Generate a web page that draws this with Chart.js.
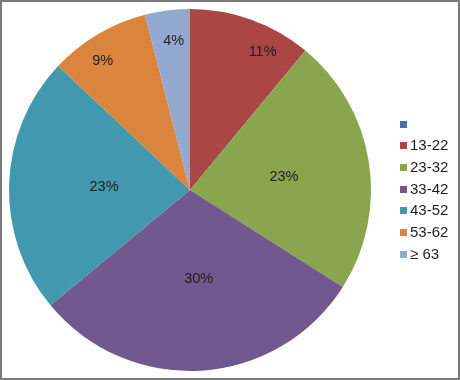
<!DOCTYPE html>
<html>
<head>
<meta charset="utf-8">
<script src="https://cdn.jsdelivr.net/npm/chart.js@4"></script>
<style>
html,body{margin:0;padding:0;background:#fff;}
#wrap{width:460px;height:380px;position:relative;}
</style>
</head>
<body>
<div id="wrap"><canvas id="c" width="460" height="380"></canvas></div>
<script>
const categories = ['', '13-22', '23-32', '33-42', '43-52', '53-62', '\u2265 63'];
const percentages = [0, 11, 23, 30, 23, 9, 4];
const colors = ['#4572A7', '#AA4643', '#89A54E', '#71588F', '#4198AF', '#DB843D', '#93A9CF'];

const FONT = '"Liberation Sans", Arial, sans-serif';

const frame = {
  id: 'frame',
  beforeDraw(chart) {
    const ctx = chart.ctx;
    ctx.save();
    ctx.fillStyle = '#fff';
    ctx.fillRect(0, 0, chart.width, chart.height);
    ctx.restore();
  },
  afterDraw(chart) {
    const ctx = chart.ctx;
    ctx.save();
    ctx.strokeStyle = '#7a7a7a';
    ctx.lineWidth = 2;
    ctx.strokeRect(1, 1, chart.width - 2, chart.height - 2);
    ctx.restore();
  }
};

const sliceLabels = {
  id: 'sliceLabels',
  afterDatasetsDraw(chart, args, opts) {
    const ctx = chart.ctx;
    const meta = chart.getDatasetMeta(0);
    ctx.save();
    ctx.font = opts.font;
    ctx.fillStyle = opts.color;
    ctx.textAlign = 'center';
    ctx.textBaseline = 'middle';
    meta.data.forEach((arc, i) => {
      const v = chart.data.datasets[0].data[i];
      if (!v) return;
      const p = arc.getProps(['x', 'y', 'startAngle', 'endAngle', 'outerRadius']);
      const place = opts.placement[i] || [0.6, 0];
      const a = (p.startAngle + p.endAngle) / 2 + place[1] * Math.PI / 180;
      const r = p.outerRadius * place[0];
      ctx.fillText(v + '%', p.x + Math.cos(a) * r, p.y + Math.sin(a) * r);
    });
    ctx.restore();
  }
};

const sideLegend = {
  id: 'sideLegend',
  afterDraw(chart, args, opts) {
    const ctx = chart.ctx;
    ctx.save();
    ctx.font = opts.font;
    ctx.textBaseline = 'middle';
    ctx.textAlign = 'left';
    chart.data.labels.forEach((lab, i) => {
      const y = opts.top + i * opts.rowHeight;
      ctx.fillStyle = chart.data.datasets[0].backgroundColor[i];
      ctx.fillRect(opts.x, Math.round(y - opts.box / 2), opts.box, opts.box);
      ctx.fillStyle = opts.color;
      ctx.fillText(lab, opts.x + opts.box + 3, y + 0.5);
    });
    ctx.restore();
  }
};

new Chart(document.getElementById('c'), {
  type: 'pie',
  data: {
    labels: categories,
    datasets: [{
      data: percentages,
      backgroundColor: colors,
      borderWidth: 0
    }]
  },
  options: {
    responsive: false,
    animation: false,
    layout: { padding: { left: 9, top: 9, bottom: 9, right: 89 } },
    plugins: {
      legend: { display: false },
      tooltip: { enabled: false },
      sliceLabels: {
        font: '14.5px ' + FONT,
        color: '#1e1e1e',
        placement: [[0.6, 0], [0.86, 8], [0.524, 1], [0.494, -2], [0.475, 0], [0.86, -3.5], [0.83, 1]]
      },
      sideLegend: {
        font: '15px ' + FONT,
        color: '#1e1e1e',
        x: 400,
        top: 124,
        rowHeight: 21.7,
        box: 7
      }
    }
  },
  plugins: [frame, sliceLabels, sideLegend]
});
</script>
</body>
</html>
